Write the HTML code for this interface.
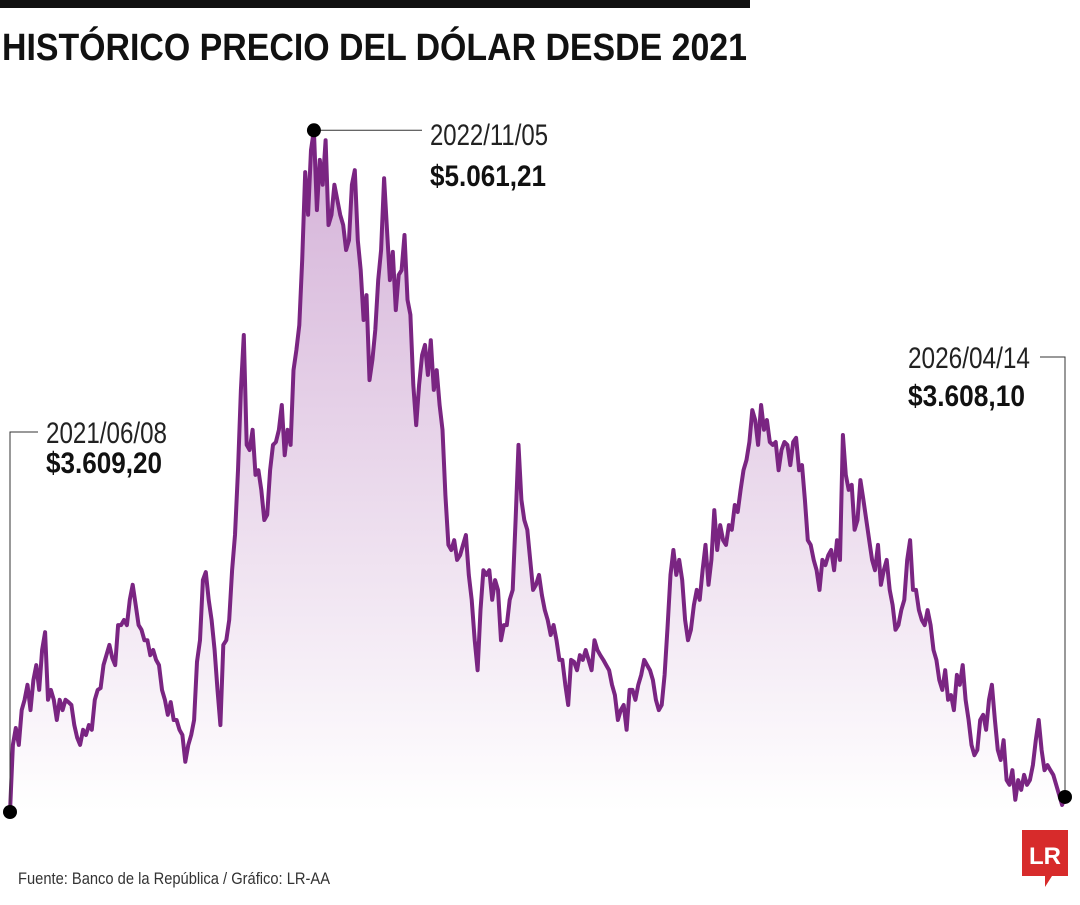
<!DOCTYPE html>
<html><head><meta charset="utf-8">
<style>
body{margin:0;background:#fff;width:1080px;height:900px;overflow:hidden;font-family:"Liberation Sans Narrow","Liberation Sans",sans-serif;}
svg text{font-family:"Liberation Sans Narrow","Liberation Sans",sans-serif;}
</style></head>
<body>
<svg id="chart" width="1080" height="900" viewBox="0 0 1080 900" xmlns="http://www.w3.org/2000/svg">
<defs>
<linearGradient id="fillg" x1="0" y1="0" x2="0" y2="1">
<stop offset="0" stop-color="#cfa8d3"/><stop offset="1" stop-color="#ffffff"/>
</linearGradient>
</defs>
<rect x="0" y="0" width="750" height="8" fill="#111"/>
<text x="2" y="60" font-size="38" font-weight="bold" fill="#111" textLength="745" lengthAdjust="spacingAndGlyphs">HISTÓRICO PRECIO DEL DÓLAR DESDE 2021</text>
<path id="area" fill="url(#fillg)" opacity="0.9"/>
<path id="line" fill="none" stroke="#7a2582" stroke-width="4" stroke-linejoin="round"/>
<g id="annots"></g>
<text x="18" y="884" font-size="17" fill="#333" textLength="312" lengthAdjust="spacingAndGlyphs">Fuente: Banco de la República / Gráfico: LR-AA</text>
<g>
<path d="M1022 830 H1068 V876 H1052 L1045 887 L1045 876 H1022 Z" fill="#d72b2b"/>
<text x="1045" y="864" font-size="24" font-weight="bold" fill="#fff" text-anchor="middle" font-family="Liberation Serif,serif">LR</text>
</g>
</svg>
<script>
const dates=["2021/06/08","2022/11/05","2026/04/14"];
const labels=["$3.609,20","$5.061,21","$3.608,10"];
const prices=[3609,3752,3788,3752,3826,3848,3880,3826,3890,3922,3869,3954,3992,3848,3869,3848,3805,3848,3826,3848,3843,3837,3794,3767,3752,3784,3773,3794,3784,3848,3869,3873,3922,3943,3965,3937,3922,4007,4007,4018,4007,4061,4093,4050,4007,3997,3975,3975,3943,3954,3933,3922,3869,3848,3816,3843,3805,3805,3784,3773,3716,3752,3773,3805,3929,3975,4103,4120,4061,4018,3954,3869,3794,3965,3975,4018,4124,4199,4337,4508,4625,4391,4380,4423,4327,4337,4295,4231,4242,4337,4391,4397,4423,4476,4369,4423,4391,4550,4593,4646,4785,4972,4881,5019,5061,4891,4998,4945,5040,4859,4881,4945,4913,4881,4859,4806,4827,4945,4976,4827,4763,4657,4710,4529,4572,4636,4742,4806,4959,4849,4742,4802,4678,4753,4763,4838,4700,4668,4519,4433,4519,4582,4604,4540,4614,4508,4550,4476,4423,4284,4178,4167,4188,4146,4156,4178,4199,4114,4061,3975,3911,4039,4124,4114,4124,4061,4103,4082,3975,4007,4007,4061,4082,4231,4391,4274,4231,4210,4146,4082,4093,4114,4071,4039,4018,3986,4007,3975,3933,3933,3880,3837,3933,3929,3911,3943,3933,3954,3933,3911,3975,3954,3943,3933,3922,3911,3880,3858,3805,3826,3837,3784,3869,3869,3848,3880,3901,3933,3922,3911,3890,3848,3826,3837,3901,4001,4114,4167,4114,4146,4103,4018,3975,3997,4050,4082,4061,4124,4178,4093,4146,4252,4167,4220,4188,4178,4220,4210,4263,4248,4295,4337,4359,4397,4465,4444,4391,4476,4423,4444,4397,4391,4397,4337,4380,4397,4391,4348,4397,4406,4337,4348,4274,4188,4178,4146,4124,4082,4146,4135,4156,4167,4124,4188,4146,4412,4327,4295,4306,4210,4231,4316,4274,4231,4188,4146,4124,4178,4093,4124,4146,4082,4050,3997,4007,4039,4061,4146,4188,4082,4082,4039,4018,4007,4039,4007,3954,3933,3890,3869,3911,3848,3858,3826,3901,3880,3922,3848,3805,3752,3730,3741,3805,3816,3784,3848,3880,3805,3741,3720,3762,3677,3667,3698,3635,3677,3656,3688,3667,3677,3709,3762,3805,3741,3698,3709,3698,3688,3667,3645,3624,3641];
const X0=10,X1=1065,Y0=812,V0=3609,PX=2.13;
const xs=i=>X0+(X1-X0)*i/(prices.length-1);
const ys=v=>Y0-(v-V0)/PX;
let d="";
prices.forEach((v,i)=>{d+=(i?"L":"M")+xs(i).toFixed(1)+" "+ys(v).toFixed(1);});
document.getElementById('line').setAttribute('d',d);
document.getElementById('area').setAttribute('d',d+"L"+X1+" 812L"+X0+" 812Z");
const ns="http://www.w3.org/2000/svg",g=document.getElementById('annots');
function mk(t,a){const e=document.createElementNS(ns,t);for(const k in a)e.setAttribute(k,a[k]);g.appendChild(e);return e;}
let pk=0;prices.forEach((v,i)=>{if(v>prices[pk])pk=i;});
const sx=xs(0),sy=ys(prices[0]),px=xs(pk),py=ys(prices[pk]),ex=xs(prices.length-1),ey=ys(prices[prices.length-1]);
let e;
e=mk('path',{d:`M${sx} ${sy}V432H38`,stroke:'#333','stroke-width':1,fill:'none'});


e=mk('path',{d:`M${px} ${py}H422`,stroke:'#333','stroke-width':1,fill:'none'});


e=mk('path',{d:`M1040 357H${ex}V${ey}`,stroke:'#333','stroke-width':1,fill:'none'});


[[sx,sy,'start-point'],[px,py,'peak-point'],[ex,ey,'end-point']].forEach(p=>{
 const c=mk('circle',{cx:p[0],cy:p[1],r:7,fill:'#000'});
 
 
});
const ann=[[46,443,473,121,116,0],[430,145,186,118,116,1],[908,368,406,122,117,2]];
ann.forEach(a=>{
 const t=mk('text',{x:a[0],y:a[1],'font-size':30,fill:'#222',textLength:a[3],lengthAdjust:'spacingAndGlyphs'});
 t.textContent=dates[a[5]];
 
 
 const v=mk('text',{x:a[0],y:a[2],'font-size':30,'font-weight':'bold',fill:'#111',textLength:a[4],lengthAdjust:'spacingAndGlyphs'});
 v.textContent=labels[a[5]];
 
 
});
</script>
</body></html>
